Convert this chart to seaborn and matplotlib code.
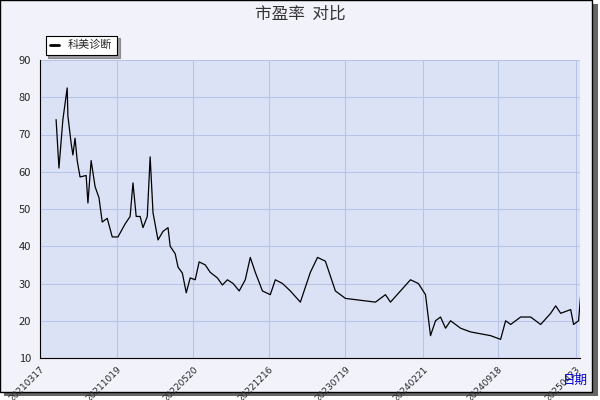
import matplotlib
matplotlib.use("Agg")
import matplotlib.pyplot as plt
import seaborn as sns
import pandas as pd
from matplotlib.patches import Rectangle

days = [45,53,64,76,78,87,92,98,104,112,129,134,143,154,165,174,188,202,218,238,252,260,269,280,288,300,308,316,330,344,358,364,378,386,398,409,420,434,445,462,476,496,510,524,540,557,574,588,602,622,644,658,678,700,728,756,776,798,812,826,854,896,938,966,980,1008,1036,1058,1078,1092,1106,1120,1134,1148,1176,1204,1232,1260,1288,1302,1316,1344,1372,1400,1428,1442,1456,1484,1492,1506,1512]
pe = [74,61,74,82.5,75,67.7,64.5,69,63,58.6,59,51.6,63,56,53,46.5,47.5,42.5,42.5,46,48,57,48,48,45,48,64,49,41.7,44,45,40,38,34.4,32.8,27.5,31.5,31,35.8,35,33,31.5,29.6,31,30,28,31,37,33,28,27,31,30,28,25,33,37,36,32,28,26,25.5,25,27,25,28,31,30,27,16,20,21,18,20,18,17,16.5,16,15,20,19,21,21,19,22,24,22,23,19,20,27]
tick_labels = ["20210317","20211019","20220520","20221216","20230719","20240221","20240918","20250423"]

start = pd.Timestamp("2021-03-17")
df = pd.DataFrame({"date": [start + pd.Timedelta(days=d) for d in days], "pe": pe})

sns.set_style("white")
plt.rcParams['font.family'] = ['Noto Sans CJK SC', 'DejaVu Sans']
fig = plt.figure(figsize=(6, 4), dpi=100, facecolor="#F2F2FA")
ax = fig.add_axes([40/600, 42/400, 540/600, 298/400])
ax.set_facecolor("#DCE2F6")
sns.lineplot(data=df, x="date", y="pe", ax=ax, color="black", linewidth=0.9, label="科美诊断")
ticks = [pd.Timestamp(t) for t in tick_labels]
ax.set_xticks(ticks)
ax.set_xticklabels(tick_labels, rotation=45, fontsize=6.5, ha="right", rotation_mode="anchor",
                   family="DejaVu Sans")
ax.set_xlim(start, pd.Timestamp("2025-05-05"))
ax.set_ylim(10, 90)
ax.set_yticks(range(10, 91, 10))
ax.tick_params(axis="y", labelsize=8, length=3)
ax.tick_params(axis="x", length=3, pad=2)
ax.grid(True, color="#B8C3E8", linewidth=0.8)
for s in ["top", "right"]:
    ax.spines[s].set_visible(False)
ax.spines["left"].set_color("black")
ax.spines["bottom"].set_color("black")
ax.set_xlabel("")
ax.set_ylabel("")
leg = ax.legend(loc="upper left", bbox_to_anchor=(0/540, 1 + 30/298), fontsize=8,
                frameon=True, fancybox=False, shadow=True, edgecolor="black", handlelength=0.8,
                facecolor="white", framealpha=1)
leg.get_frame().set_linewidth(0.8)
for l in leg.get_lines():
    l.set_linewidth(2)
fig.text(0.5, 0.965, "市盈率  对比", ha="center", va="center", fontsize=12, color="#333333")
fig.text(575/600, 20/400, "日期", ha="center", va="center", fontsize=9, color="#0000CC")
fig.patches.append(Rectangle((4/600, 4/400), 594/600, 392/400, transform=fig.transFigure,
                             facecolor="#666666", edgecolor="none", zorder=-2))
fig.patches.append(Rectangle((0, 8/400), 592/600, 392/400 - 0.001, transform=fig.transFigure,
                             facecolor="#F2F2FA", edgecolor="black", linewidth=1, zorder=-1))
fig.savefig("out.png", dpi=100, facecolor="white")
